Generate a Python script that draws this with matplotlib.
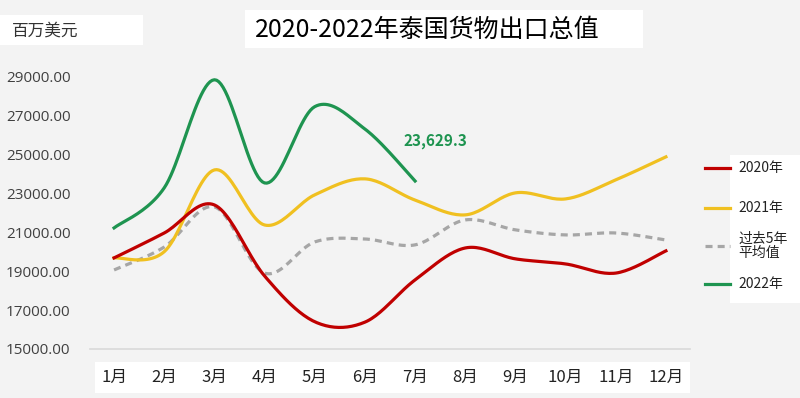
import numpy as np
import matplotlib.pyplot as plt
from matplotlib.patches import Rectangle
from matplotlib.lines import Line2D

plt.rcParams['font.family'] = ['Noto Sans CJK SC', 'DejaVu Sans']

months = ['1月', '2月', '3月', '4月', '5月', '6月', '7月', '8月', '9月', '10月', '11月', '12月']
exp_2020 = [19680, 20960, 22400, 18750, 16400, 16380, 18550, 20190, 19630, 19370, 18900, 20040]
exp_2021 = [19680, 20000, 24200, 21370, 22920, 23740, 22650, 21890, 23020, 22710, 23690, 24870]
avg_5yr = [19060, 20240, 22300, 18900, 20500, 20650, 20350, 21630, 21120, 20860, 20960, 20600]
exp_2022 = [21220, 23280, 28830, 23530, 27450, 26300, 23629.3]
y_ticks = [15000, 17000, 19000, 21000, 23000, 25000, 27000, 29000]
legend_labels = ['2020年', '2021年', '过去5年\n平均值', '2022年']


def smooth(xs, ys, n=24):
    # catmull-rom, like excel's "smoothed line"
    xs = np.asarray(xs, float)
    ys = np.asarray(ys, float)
    px = np.concatenate([[xs[0]], xs, [xs[-1]]])
    py = np.concatenate([[ys[0]], ys, [ys[-1]]])
    t = np.linspace(0, 1, n)
    ox, oy = [], []
    for i in range(1, len(px) - 2):
        for p, out in ((px, ox), (py, oy)):
            p0, p1, p2, p3 = p[i - 1], p[i], p[i + 1], p[i + 2]
            seg = 0.5 * (2 * p1 + (-p0 + p2) * t + (2 * p0 - 5 * p1 + 4 * p2 - p3) * t ** 2
                         + (-p0 + 3 * p1 - 3 * p2 + p3) * t ** 3)
            out.extend(seg)
    return ox, oy


bg = '#f3f3f3'
c_red = '#c00000'
c_yel = '#f0c020'
c_grey = '#a6a6a6'
c_green = '#1e9450'
W, H = 800, 398

fig = plt.figure(figsize=(8, 3.98), dpi=100, facecolor=bg)
ax = fig.add_axes([90 / W, 49 / H, 600 / W, 292 / H])
ax.set_facecolor('none')

x = np.arange(1, 13)
ax.plot(*smooth(x, avg_5yr), color=c_grey, lw=2.3, dashes=(2.2, 1.6), zorder=2)
ax.plot(*smooth(x, exp_2021), color=c_yel, lw=2.3, zorder=3)
ax.plot(*smooth(x, exp_2020), color=c_red, lw=2.3, zorder=4)
ax.plot(*smooth(x[:len(exp_2022)], exp_2022), color=c_green, lw=2.3, zorder=5)

ax.annotate('23,629.3', (7, exp_2022[-1]), xytext=(-8, 29), textcoords='offset points',
            color=c_green, fontsize=11, fontweight='bold', ha='left', va='center')

ax.set_xlim(0.52, 12.48)
ax.set_ylim(15000, 30000)
ax.set_yticks(y_ticks)
ax.set_yticklabels([f'{v:.2f}' for v in y_ticks], fontsize=11, color='#404040',
                   family=['Open Sans', 'DejaVu Sans'])
ax.set_xticks(x)
ax.set_xticklabels(months, fontsize=12, color='#222222')
ax.tick_params(axis='y', length=0, pad=14)
ax.tick_params(axis='x', length=0, pad=14)
for s in ['top', 'right', 'left']:
    ax.spines[s].set_visible(False)
ax.spines['bottom'].set_color('#d9d9d9')
ax.spines['bottom'].set_linewidth(1.2)

# white boxes
for bx, by, bw, bh in [(95, 5, 595, 31), (0, 353, 143, 30), (245, 350, 398, 38), (730, 95, 70, 148)]:
    fig.add_artist(Rectangle((bx / W, by / H), bw / W, bh / H, transform=fig.transFigure,
                             facecolor='white', edgecolor='none', zorder=0))

fig.text(12 / W, 1 - 31 / H, '百万美元', fontsize=12, color='#333333', va='center')
fig.text(255 / W, 1 - 30 / H, '2020-2022年泰国货物出口总值', fontsize=18, color='black', va='center')

# legend, drawn by hand
styles = [dict(color=c_red), dict(color=c_yel), dict(color=c_grey, dashes=(2.2, 1.6)), dict(color=c_green)]
rows = [168, 208, 246, 284]
for st, lab, ry in zip(styles, legend_labels, rows):
    fig.add_artist(Line2D([705 / W, 730 / W], [1 - ry / H] * 2, lw=2.3, transform=fig.transFigure, **st))
    fig.text(738 / W, 1 - ry / H, lab, fontsize=10, color='#222222', va='center', linespacing=1.0)

fig.savefig('out.png', dpi=100, facecolor=bg)
